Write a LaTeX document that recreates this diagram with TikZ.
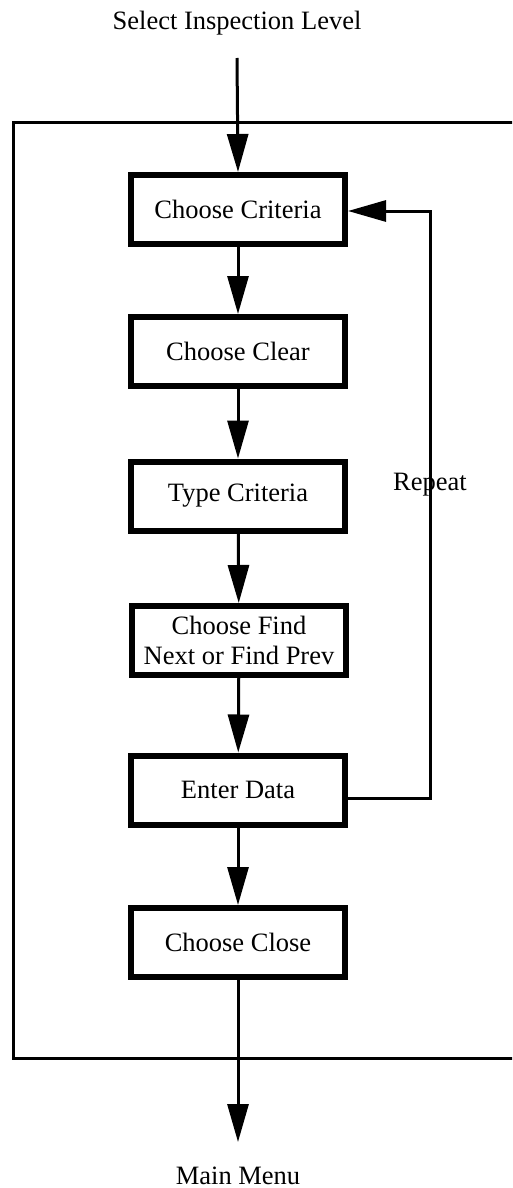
\documentclass[tikz,border=0pt]{standalone}
\usepackage{fontspec}
\setmainfont{Liberation Serif}
\usetikzlibrary{arrows.meta,calc}
\begin{document}
\begin{tikzpicture}[x=1pt,y=-1pt,
  every node/.style={font=\fontsize{26.5}{32}\selectfont},
  stepbox/.style={draw,line width=6pt,minimum width=214pt,minimum height=69pt,
    inner sep=0pt,align=center},
  flow/.style={line width=3pt,-{Triangle[length=38pt,width=21pt]}},
  label/.style={anchor=base,inner sep=0pt}]
  \useasboundingbox (0,0) rectangle (512,1188);
  \clip (0,0) rectangle (512,1188);

  % enclosing frame, open past the right edge
  \draw[line width=3pt] (13,123) rectangle (530,1058);

  % steps
  \node[stepbox] (crit)  at (238,209.5) {Choose Criteria};
  \node[stepbox] (clear) at (238,351.5) {Choose Clear};
  \node[stepbox] (type)  at (238,496)   {Type Criteria};
  \node[stepbox] (find)  at (239,640.5) {Choose Find\\[-2pt]Next or Find Prev};
  \node[stepbox] (enter) at (238,790)   {Enter Data};
  \node[stepbox] (close) at (238,942.5) {Choose Close};

  % entry and exit labels
  \node[label] (start) at (237,30)   {Select Inspection Level};
  \node[label] (menu)  at (238,1184) {Main Menu};
  \coordinate (in)  at (237,58);
  \coordinate (out) at (238,1142);

  % main flow
  \draw[flow] (in) -- (crit.north);
  \draw[flow] (crit) -- (clear);
  \draw[flow] (clear) -- (type);
  \draw[flow] (type) -- (find);
  \draw[flow] (find) -- (enter);
  \draw[flow] (enter) -- (close);
  \draw[flow] (close.south) -- (out);

  % repeat loop back to the first step
  \coordinate (rb) at ($(enter.east)+(0,8)$);
  \coordinate (rt) at (430,211);
  \draw[flow] (rb) -| (rt) -- (crit.east |- rt);
  \node[label] (rep) at (430,490) {Repeat};
\end{tikzpicture}
\end{document}
